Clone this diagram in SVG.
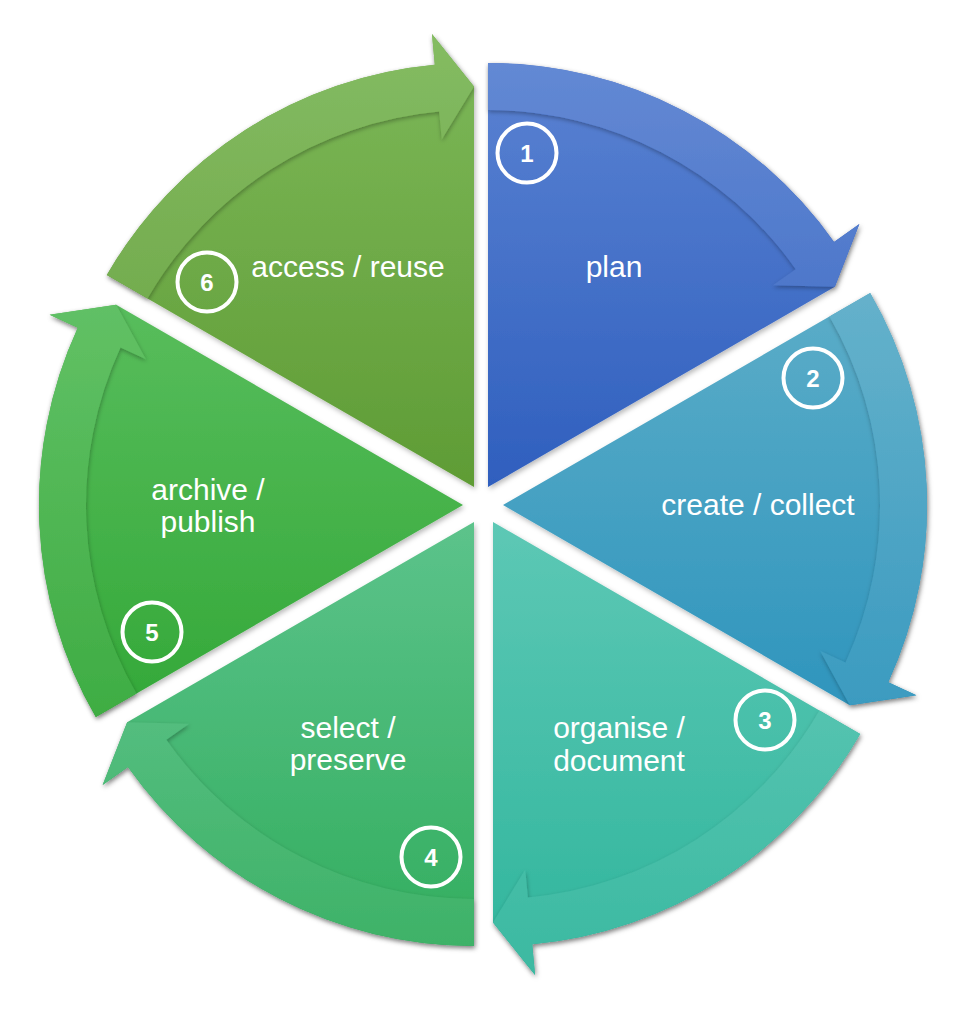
<svg xmlns="http://www.w3.org/2000/svg" xmlns:xlink="http://www.w3.org/1999/xlink" width="966" height="1015" viewBox="0 0 966 1015">
  <style>
    .lbl { fill: #ffffff; font-family: "Liberation Sans", Arial, sans-serif; font-size: 30px; text-anchor: middle; }
    .num { fill: #ffffff; font-family: "Liberation Sans", Arial, sans-serif; font-size: 24px; font-weight: bold; text-anchor: middle; }
    .badge { fill: none; stroke: #ffffff; stroke-width: 4; }
    .hl { fill: #ffffff; fill-opacity: 0.06; }
  </style>
  <defs>
    <!-- One 60-degree segment around its own centre, starting at the top and running clockwise -->
    <path id="wedge" d="M0,0 L0,-424 A424,424 0 0 1 346.05,-245.02 L371.35,-262.93 L346.84,-200.25 Z"/>
    <!-- Curved arrow band along the outer rim of a segment -->
    <path id="band" d="M0,-424 A424,424 0 0 1 346.05,-245.02 L371.35,-262.93 L346.84,-200.25 L284.84,-201.68 L307.69,-217.86 A377,377 0 0 0 0,-377 Z"/>

    <filter id="sh" x="-20%" y="-20%" width="140%" height="140%">
      <feDropShadow dx="1.5" dy="2.5" stdDeviation="2.5" flood-color="#000" flood-opacity="0.28"/>
    </filter>
    <filter id="bsh" x="-20%" y="-20%" width="140%" height="140%">
      <feDropShadow dx="0.5" dy="2" stdDeviation="2" flood-color="#000" flood-opacity="0.3"/>
    </filter>

    <!-- Vertical fills; gradientTransform cancels each segment's rotation -->
    <linearGradient id="g1" gradientUnits="userSpaceOnUse" x1="0" y1="-424" x2="0" y2="0" gradientTransform="rotate(0)">
      <stop offset="0" stop-color="#5a82d2"/><stop offset="1" stop-color="#2f5fbe"/>
    </linearGradient>
    <linearGradient id="g2" gradientUnits="userSpaceOnUse" x1="0" y1="-212" x2="0" y2="200" gradientTransform="rotate(-60)">
      <stop offset="0" stop-color="#5cadc8"/><stop offset="1" stop-color="#2f95bd"/>
    </linearGradient>
    <linearGradient id="g3" gradientUnits="userSpaceOnUse" x1="0" y1="0" x2="0" y2="453" gradientTransform="rotate(-120)">
      <stop offset="0" stop-color="#5dc8b5"/><stop offset="1" stop-color="#2fb59c"/>
    </linearGradient>
    <linearGradient id="g4" gradientUnits="userSpaceOnUse" x1="0" y1="0" x2="0" y2="424" gradientTransform="rotate(-180)">
      <stop offset="0" stop-color="#5cc38b"/><stop offset="1" stop-color="#33ae5f"/>
    </linearGradient>
    <linearGradient id="g5" gradientUnits="userSpaceOnUse" x1="0" y1="-200" x2="0" y2="212" gradientTransform="rotate(-240)">
      <stop offset="0" stop-color="#58bd5c"/><stop offset="1" stop-color="#33a838"/>
    </linearGradient>
    <linearGradient id="g6" gradientUnits="userSpaceOnUse" x1="0" y1="-453" x2="0" y2="0" gradientTransform="rotate(-300)">
      <stop offset="0" stop-color="#7db859"/><stop offset="1" stop-color="#5f9c35"/>
    </linearGradient>
  </defs>

  <rect width="966" height="1015" fill="#ffffff"/>

  <!-- Step 1: plan -->
  <g id="step1">
    <g transform="translate(488 487)" filter="url(#sh)"><use xlink:href="#wedge" href="#wedge" fill="url(#g1)"/></g>
    <circle class="badge" cx="527" cy="153" r="29.5"/>
    <text class="num" x="527" y="161.5">1</text>
    <text class="lbl" x="614" y="277">plan</text>
  </g>

  <!-- Step 2: create / collect -->
  <g id="step2">
    <g transform="translate(503 505)" filter="url(#sh)"><use xlink:href="#wedge" href="#wedge" transform="rotate(60)" fill="url(#g2)"/></g>
    <circle class="badge" cx="813" cy="378" r="29.5"/>
    <text class="num" x="813" y="386.5">2</text>
    <text class="lbl" x="758" y="515">create / collect</text>
  </g>

  <!-- Step 3: organise / document -->
  <g id="step3">
    <g transform="translate(493 522)" filter="url(#sh)"><use xlink:href="#wedge" href="#wedge" transform="rotate(120)" fill="url(#g3)"/></g>
    <circle class="badge" cx="765" cy="720" r="29.5"/>
    <text class="num" x="765" y="728.5">3</text>
    <text class="lbl" x="619" y="738">organise /</text>
    <text class="lbl" x="619" y="770.5">document</text>
  </g>

  <!-- Step 4: select / preserve -->
  <g id="step4">
    <g transform="translate(474 522)" filter="url(#sh)"><use xlink:href="#wedge" href="#wedge" transform="rotate(180)" fill="url(#g4)"/></g>
    <circle class="badge" cx="431" cy="857" r="29.5"/>
    <text class="num" x="431" y="865.5">4</text>
    <text class="lbl" x="348" y="737.5">select /</text>
    <text class="lbl" x="348" y="770">preserve</text>
  </g>

  <!-- Step 5: archive / publish -->
  <g id="step5">
    <g transform="translate(463 505)" filter="url(#sh)"><use xlink:href="#wedge" href="#wedge" transform="rotate(240)" fill="url(#g5)"/></g>
    <circle class="badge" cx="152" cy="632" r="29.5"/>
    <text class="num" x="152" y="640.5">5</text>
    <text class="lbl" x="208" y="499.5">archive /</text>
    <text class="lbl" x="208" y="532">publish</text>
  </g>

  <!-- Step 6: access / reuse -->
  <g id="step6">
    <g transform="translate(474 487)" filter="url(#sh)"><use xlink:href="#wedge" href="#wedge" transform="rotate(300)" fill="url(#g6)"/></g>
    <circle class="badge" cx="207" cy="282" r="29.5"/>
    <text class="num" x="207" y="290.5">6</text>
    <text class="lbl" x="348" y="277">access / reuse</text>
  </g>

  <!-- Curved arrows running clockwise from each step to the next -->
  <g id="connectors">
    <g transform="translate(488 487)">
      <g filter="url(#bsh)"><use xlink:href="#band" href="#band" fill="url(#g1)"/></g>
      <use xlink:href="#band" href="#band" class="hl"/>
    </g>
    <g transform="translate(503 505)">
      <g filter="url(#bsh)"><use xlink:href="#band" href="#band" transform="rotate(60)" fill="url(#g2)"/></g>
      <use xlink:href="#band" href="#band" transform="rotate(60)" class="hl"/>
    </g>
    <g transform="translate(493 522)">
      <g filter="url(#bsh)"><use xlink:href="#band" href="#band" transform="rotate(120)" fill="url(#g3)"/></g>
      <use xlink:href="#band" href="#band" transform="rotate(120)" class="hl"/>
    </g>
    <g transform="translate(474 522)">
      <g filter="url(#bsh)"><use xlink:href="#band" href="#band" transform="rotate(180)" fill="url(#g4)"/></g>
      <use xlink:href="#band" href="#band" transform="rotate(180)" class="hl"/>
    </g>
    <g transform="translate(463 505)">
      <g filter="url(#bsh)"><use xlink:href="#band" href="#band" transform="rotate(240)" fill="url(#g5)"/></g>
      <use xlink:href="#band" href="#band" transform="rotate(240)" class="hl"/>
    </g>
    <g transform="translate(474 487)">
      <g filter="url(#bsh)"><use xlink:href="#band" href="#band" transform="rotate(300)" fill="url(#g6)"/></g>
      <use xlink:href="#band" href="#band" transform="rotate(300)" class="hl"/>
    </g>
  </g>
</svg>
